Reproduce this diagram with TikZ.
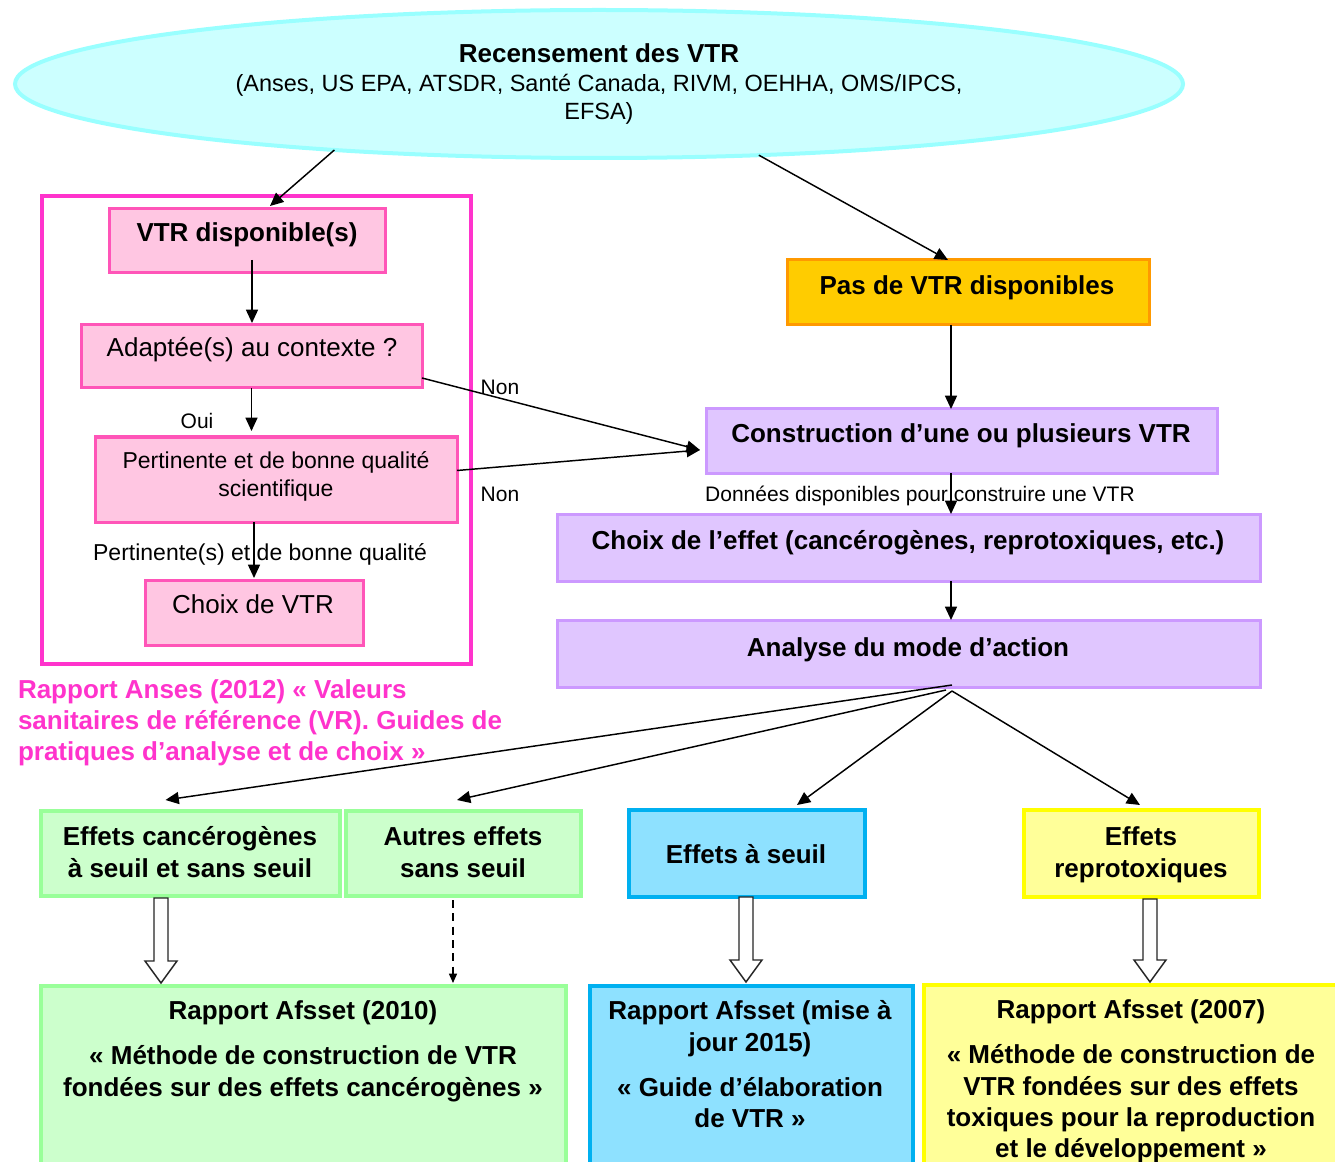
\documentclass[tikz,border=0pt]{standalone}
\usepackage{fontspec}
\setmainfont{Liberation Sans}
\usetikzlibrary{arrows.meta,shapes.geometric,fit,calc}
\definecolor{cyanF}{HTML}{CCFFFF}
\definecolor{cyanD}{HTML}{99FFFF}
\definecolor{frameP}{HTML}{FF33CC}
\definecolor{pinkF}{HTML}{FFC6E2}
\definecolor{pinkD}{HTML}{FF55B8}
\definecolor{orF}{HTML}{FFCC00}
\definecolor{orD}{HTML}{FF9900}
\definecolor{lavF}{HTML}{E0C6FF}
\definecolor{lavD}{HTML}{CC99FF}
\definecolor{grF}{HTML}{CCFFCC}
\definecolor{grD}{HTML}{99FF99}
\definecolor{blF}{HTML}{8EE1FF}
\definecolor{blD}{HTML}{00B0F0}
\definecolor{yeF}{HTML}{FFFF99}
\definecolor{yeD}{HTML}{FFFF00}
\newcommand\hollowarr[2]{%
  \draw[hollow] ($#1+(-7,0)$) -- ++(0,{#2-22}) -- ++(-9,0) -- ++(16,22)
     -- ++(16,-22) -- ++(-9,0) -- ++(0,{22-#2}) -- cycle;}
\begin{document}
\begin{tikzpicture}[x=0.75pt,y=-0.75pt,
  every node/.style={inner sep=0pt, outer sep=0pt},
  bx/.style={line width=2.25pt},
  boxp/.style={bx, draw=pinkD, fill=pinkF},
  boxo/.style={bx, draw=orD, fill=orF},
  boxl/.style={bx, draw=lavD, fill=lavF},
  boxg/.style={bx, draw=grD, fill=grF, line width=2.6pt},
  boxb/.style={bx, draw=blD, fill=blF, line width=3.2pt},
  boxy/.style={bx, draw=yeD, fill=yeF, line width=3.2pt},
  tb/.style={anchor=base, font=\fontsize{19.5pt}{24pt}\selectfont\bfseries},
  tr/.style={anchor=base, font=\fontsize{19.5pt}{24pt}\selectfont},
  tm/.style={anchor=base, font=\fontsize{17.25pt}{21pt}\selectfont},
  ts/.style={anchor=base, font=\fontsize{15.75pt}{19pt}\selectfont},
  tc/.style={anchor=base west, text=frameP, font=\fontsize{19.5pt}{24pt}\selectfont\bfseries},
  arr/.style={draw=black, line width=1.1pt, -{Triangle[length=10pt,width=9pt]}},
  hollow/.style={draw=black!85, fill=white, line width=1.1pt, line join=miter},
]
\clip (0,0) rectangle (1335,1162);
\fill[white] (0,0) rectangle (1335,1162);
\coordinate (col) at (951,0);

% top ellipse
\node[ellipse, draw=cyanD, fill=cyanF, line width=3pt, minimum width=876pt, minimum height=111pt] (rec) at (599,84) {};
\node[tb] (recT1) at (599,63) {Recensement des VTR};
\node[anchor=base, font=\fontsize{17.6pt}{21pt}\selectfont] (recT2) at (599,92) {(Anses, US EPA, ATSDR, Santé Canada, RIVM, OEHHA, OMS/IPCS,};
\node[anchor=base, font=\fontsize{17.6pt}{21pt}\selectfont] (recT3) at (599,120) {EFSA)};

% left pink block
\node[draw=frameP, line width=3.4pt, fit={(42,196) (471,664)}] (frame) {};
\node[boxp, fit={(109,209) (385,273)}] (vtr) {};
\node[tb] (vtrT) at (247,242) {VTR disponible(s)};
\node[boxp, fit={(81,325) (422,388)}] (adapt) {};
\node[tr] (adaptT) at (252,357) {Adaptée(s) au contexte ?};
\node[boxp, fit={(95,437) (457,522)}] (pert) {};
\node[tm] (pertT1) at (276,468) {Pertinente et de bonne qualité};
\node[tm] (pertT2) at (276,496) {scientifique};
\node[boxp, fit={(145,580) (363,645)}] (choix) {};
\node[tr] (choixT) at (253,613) {Choix de VTR};
\node[ts] (oui) at (197,428) {Oui};
\node[tm] (pertL) at (260,560) {Pertinente(s) et de bonne qualité};

\node[tc] (cap1) at (18,698) {Rapport Anses (2012) « Valeurs};
\node[tc] (cap2) at (18,729) {sanitaires de référence (VR). Guides de};
\node[tc] (cap3) at (18,760) {pratiques d’analyse et de choix »};

% right column
\node[boxo, fit={(787,260) (1149,325)}] (pas) {};
\node[tb] (pasT) at (967,295) {Pas de VTR disponibles};
\node[boxl, fit={(706,409) (1217,473)}] (cons) {};
\node[tb] (consT) at (961,442) {Construction d’une ou plusieurs VTR};
\node[ts] (donT) at (920,501) {Données disponibles pour construire une VTR};
\node[boxl, fit={(557,514) (1260,581)}] (effet) {};
\node[tb] (effetT) at (908,549) {Choix de l’effet (cancérogènes, reprotoxiques, etc.)};
\node[boxl, fit={(557,620) (1260,687)}] (analyse) {};
\node[tb] (analyseT) at (908,656) {Analyse du mode d’action};

\node[ts] (non1) at (500,395) {Non};
\node[ts] (non2) at (500,501) {Non};

% effect boxes
\node[boxg, fit={(41,811) (340,896)}] (canc) {};
\node[tb] (cancT1) at (190,845) {Effets cancérogènes};
\node[tb] (cancT2) at (190,877) {à seuil et sans seuil};
\node[boxg, fit={(346,811) (581,896)}] (autres) {};
\node[tb] (autT1) at (463,845) {Autres effets};
\node[tb] (autT2) at (463,877) {sans seuil};
\node[boxb, fit={(629,810) (865,897)}] (seuil) {};
\node[tb] (seuilT) at (746,863) {Effets à seuil};
\node[boxy, fit={(1024,810) (1259,897)}] (repro) {};
\node[tb] (reproT1) at (1141,845) {Effets};
\node[tb] (reproT2) at (1141,877) {reprotoxiques};

% report boxes
\node[boxg, fit={(41,986) (566,1180)}] (r10) {};
\node[tb] (r10T1) at (303,1019) {Rapport Afsset (2010)};
\node[tb] (r10T2) at (303,1064) {« Méthode de construction de VTR};
\node[tb] (r10T3) at (303,1096) {fondées sur des effets cancérogènes »};
\node[boxb, fit={(590,986) (913,1180)}] (rs) {};
\node[tb] (rsT1) at (750,1019) {Rapport Afsset (mise à};
\node[tb] (rsT2) at (750,1051) {jour 2015)};
\node[tb] (rsT3) at (750,1096) {« Guide d’élaboration};
\node[tb] (rsT4) at (750,1127) {de VTR »};
\node[boxy, fit={(924,985) (1345,1180)}] (r07) {};
\node[tb] (r07T1) at (1131,1018) {Rapport Afsset (2007)};
\node[tb] (r07T2) at (1131,1063) {« Méthode de construction de};
\node[tb] (r07T3) at (1131,1095) {VTR fondées sur des effets};
\node[tb] (r07T4) at (1131,1126) {toxiques pour la reproduction};
\node[tb] (r07T5) at (1131,1157) {et le développement »};

% connectors
\draw[arr] (rec.194) -- ($(vtr.north)+(23,-3)$);
\draw[arr] (rec.-24) -- ($(pas.north)+(-20,0)$);
\draw[arr] ($(vtr.south)+(5,-13)$) -- ($(adapt.north)+(0.5,-2)$);
\draw[arr] (adapt.south) -- ($(adapt.south |- pert.north)+(0,-6)$);
\draw[arr] (choix.north |- pert.south) -- ($(choix.north)+(0,-2)$);
\draw[arr] ($(adapt.south east)+(0,-10)$) -- ($(cons.west)+(-6,9)$);
\draw[arr] ($(pert.east)+(0,-9)$) -- ($(cons.west)+(-6,9)$);
\draw[arr] (pas.south -| col) -- (cons.north -| col);
\draw[arr] (cons.south -| col) -- (effet.north -| col);
\draw[arr] (effet.south -| col) -- (analyse.north -| col);
\coordinate (fan) at (analyse.south -| col);
\draw[arr] ($(fan)+(1,-2)$) -- ($(canc.north)+(-25,-11)$);
\draw[arr] ($(fan)+(-5,3)$) -- ($(autres.north)+(-6.5,-11)$);
\draw[arr] ($(fan)+(1,4)$) -- ($(seuil.north)+(50,-5)$);
\draw[arr] ($(fan)+(1,4)$) -- ($(repro.north)+(-1.5,-5)$);

\hollowarr{(canc.south)+(-29.5,2)}{85}
\hollowarr{(seuil.south)+(-1,0)}{85}
\hollowarr{(repro.south)+(8.5,2)}{83}
\draw[line width=1.1pt, dash pattern=on 6pt off 4pt, -{Triangle[length=7pt,width=6pt]}]
  ($(autres.south)+(-10.5,4)$) -- ($(r10.north -| autres.south)+(-10.5,-3)$);
\end{tikzpicture}
\end{document}
